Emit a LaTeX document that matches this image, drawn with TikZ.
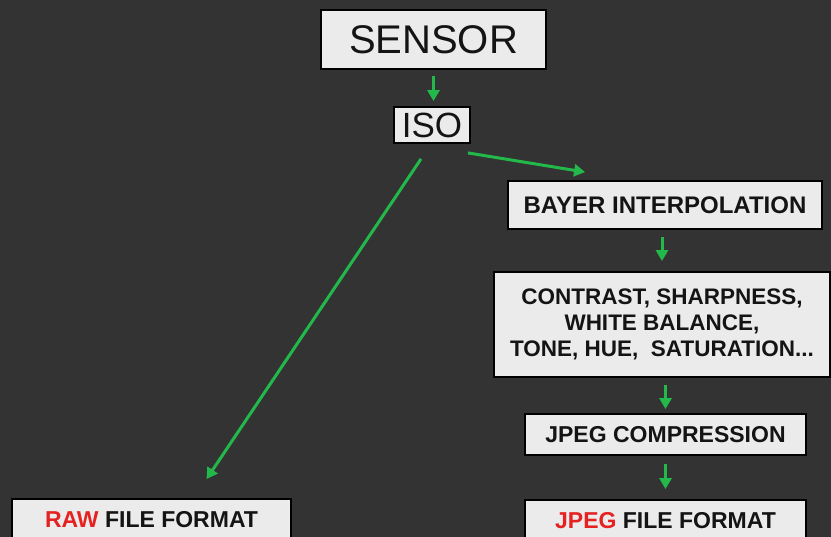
\documentclass[tikz,border=0pt]{standalone}
\usepackage{fontspec}
\setmainfont{Liberation Sans}
\usetikzlibrary{arrows.meta,calc}
\definecolor{bg}{HTML}{333333}
\definecolor{boxfill}{HTML}{EBEBEB}
\definecolor{arrgreen}{HTML}{22B84A}
\definecolor{redtxt}{HTML}{E52222}
\tikzset{
  box/.style={draw=black, line width=1.8pt, fill=boxfill, inner sep=0pt, align=center, text=black!92},
  flow/.style={draw=arrgreen, line width=3pt, -{Triangle[length=11pt,width=12pt]}},
}
\begin{document}
\begin{tikzpicture}[x=1pt,y=-1pt]
\fill[bg] (0,0) rectangle (831,537);
\useasboundingbox (0,0) rectangle (831,537);
\clip (0,0) rectangle (831,537);
\node[box, minimum width=225pt, minimum height=59pt, font=\fontsize{40}{42}\selectfont] (sensor) at (433.5,39.5) {SENSOR};
\node[box, minimum width=76pt, minimum height=36pt, font=\fontsize{35}{38}\selectfont] (iso) at (432,125) {ISO};
\node[box, minimum width=314pt, minimum height=48pt, font=\fontsize{24}{26}\selectfont\bfseries] (bayer) at (665,205) {BAYER INTERPOLATION};
\node[box, minimum width=336pt, minimum height=105pt, font=\fontsize{22.5}{26}\selectfont\bfseries] (adjust) at (662,324.5) {CONTRAST, SHARPNESS,\\WHITE BALANCE,\\TONE, HUE,\ \ SATURATION...};
\node[box, minimum width=281pt, minimum height=41pt, font=\fontsize{23}{25}\selectfont\bfseries] (jpegc) at (665.5,434.5) {JPEG COMPRESSION};
\node[box, minimum width=281pt, minimum height=42pt, font=\fontsize{23}{25}\selectfont\bfseries] (jpegf) at (665.5,521) {\textcolor{redtxt}{JPEG} FILE FORMAT};
\node[box, minimum width=279pt, minimum height=42pt, font=\fontsize{23}{25}\selectfont\bfseries] (raw) at (151.5,520) {\textcolor{redtxt}{RAW} FILE FORMAT};
\coordinate (isoA) at ($(iso.south east)+(-3,9)$);
\coordinate (bayA) at ($(bayer.north west)+(78,-8)$);
\coordinate (isoB) at ($(iso.south)+(-11,15)$);
\coordinate (rawA) at ($(raw.north)+(55,-19)$);
\draw[flow, shorten <=6pt, shorten >=5pt] (sensor.south) -- (sensor.south |- iso.north);
\draw[flow] (isoA) -- (bayA);
\draw[flow] (isoB) -- (rawA);
\draw[flow, shorten <=7pt, shorten >=10pt] (bayer.south -| adjust.north) -- (adjust.north);
\draw[flow, shorten <=7pt, shorten >=4pt] (adjust.south -| jpegc.north) -- (jpegc.north);
\draw[flow, shorten <=8pt, shorten >=10pt] (jpegc.south) -- (jpegf.north);
\end{tikzpicture}
\end{document}
